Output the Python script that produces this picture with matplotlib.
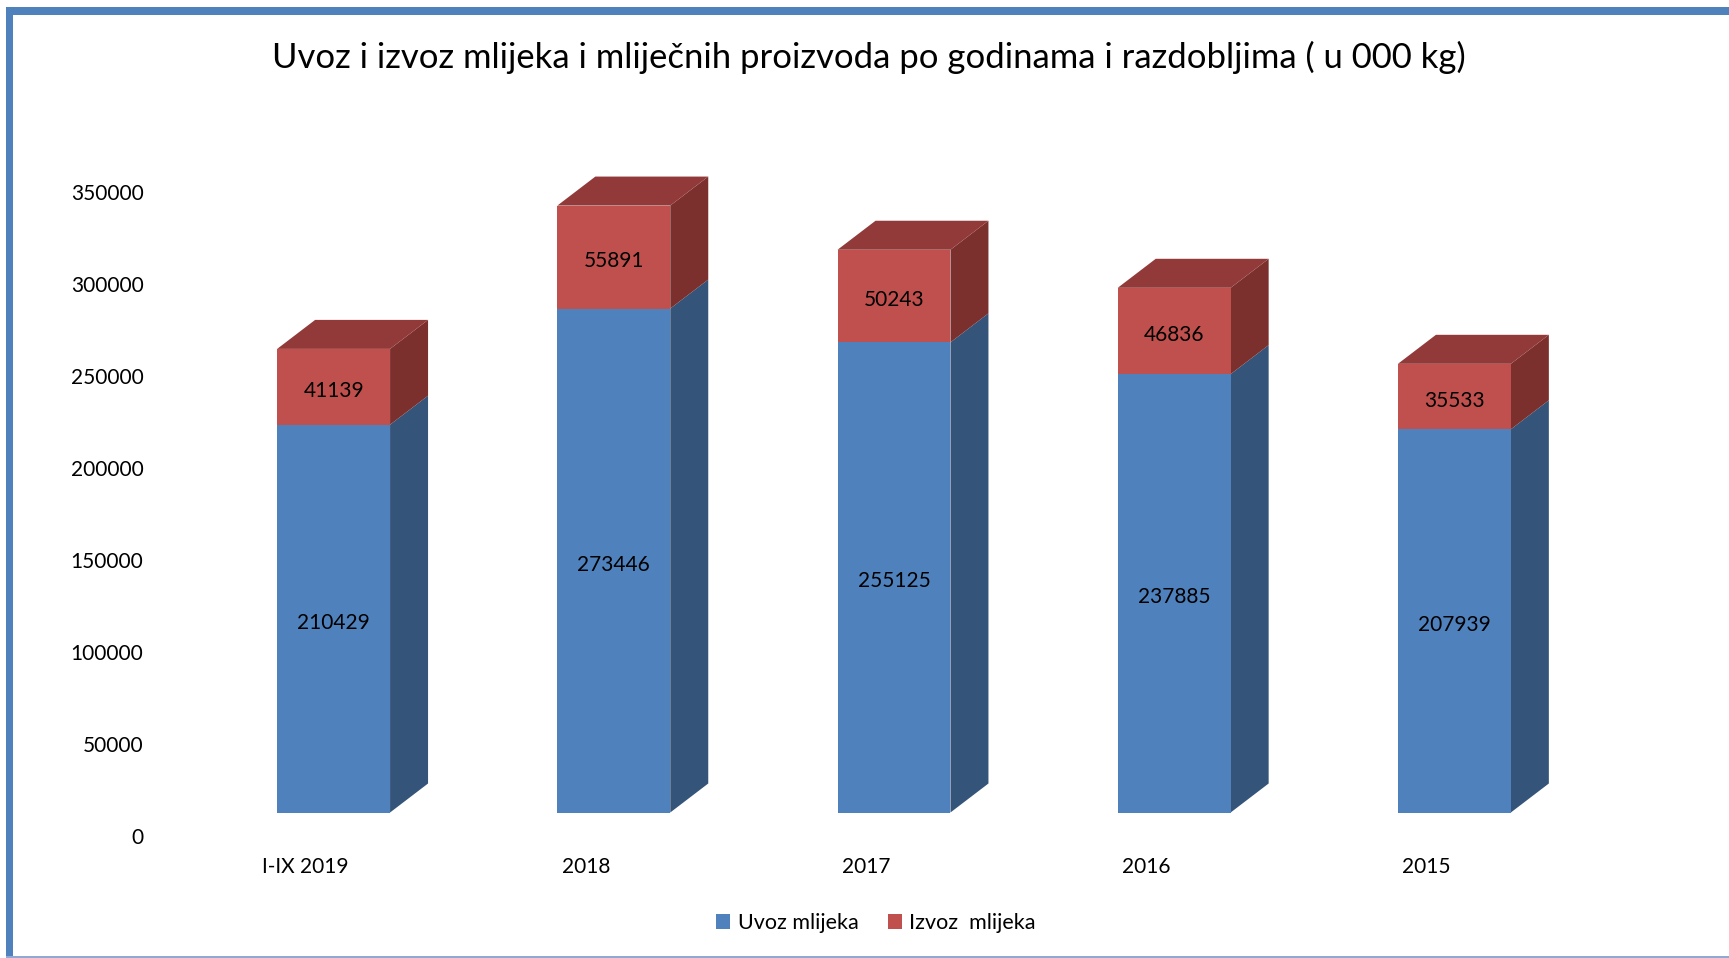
import matplotlib
matplotlib.use("Agg")
import matplotlib.pyplot as plt
import matplotlib.transforms as mtransforms
from matplotlib.patches import Polygon, Patch, Rectangle

# ---------------------------------------
# Data
# ---------------------------------------
categories = ["I-IX 2019", "2018", "2017", "2016", "2015"]
uvoz = [210429, 273446, 255125, 237885, 207939]
izvoz = [41139, 55891, 50243, 46836, 35533]
yticks = [0, 50000, 100000, 150000, 200000, 250000, 300000, 350000]
series_names = ["Uvoz mlijeka", "Izvoz  mlijeka"]
title = "Uvoz i izvoz mlijeka i mliječnih proizvoda po godinama i razdobljima ( u 000 kg)"

# colours: front, side, top
blue = ("#4F81BD", "#34547A", "#3F6797")
red = ("#C0504D", "#7C302E", "#923A39")

plt.rcParams["font.family"] = ["Lato", "DejaVu Sans"]

W, H = 1729, 958
fig = plt.figure(figsize=(W / 100, H / 100), dpi=100)
ax = fig.add_axes([193.5 / W, 145.5 / H, 1401 / W, 645 / H])
ax.set_xlim(-0.5, 4.5)
ax.set_ylim(0, 350000)

bw = 0.403          # bar width (category units)
dx = 0.1356         # 3d depth, x
dy = 15740          # 3d depth, y (value units)

lab_down = mtransforms.ScaledTranslation(0, -4 / 100, fig.dpi_scale_trans)


def box(x, bottom, height, cols, top=False):
    x0, x1 = x - bw / 2, x + bw / 2
    ax.bar(x, height, bw, bottom=bottom, color=cols[0], linewidth=0, zorder=3)
    side = [(x1, bottom), (x1 + dx, bottom + dy),
            (x1 + dx, bottom + height + dy), (x1, bottom + height)]
    ax.add_patch(Polygon(side, closed=True, facecolor=cols[1], lw=0, zorder=2))
    if top:
        t = bottom + height
        tp = [(x0, t), (x1, t), (x1 + dx, t + dy), (x0 + dx, t + dy)]
        ax.add_patch(Polygon(tp, closed=True, facecolor=cols[2], lw=0, zorder=2))


for i, (u, z) in enumerate(zip(uvoz, izvoz)):
    box(i, 0, u, blue)
    box(i, u, z, red, top=True)
    ax.text(i, u / 2, str(u), ha="center", va="center", fontsize=15, zorder=5,
            transform=ax.transData + lab_down)
    ax.text(i, u + z / 2, str(z), ha="center", va="center", fontsize=15, zorder=5,
            transform=ax.transData + lab_down)

# axes styling
for s in ax.spines.values():
    s.set_visible(False)
ax.patch.set_visible(False)

ax.set_yticks(yticks)
ax.set_yticklabels([str(v) for v in yticks])
ax.tick_params(axis="y", length=0, pad=36, labelsize=15)
down = mtransforms.ScaledTranslation(0, -24 / 100, fig.dpi_scale_trans)
for lab in ax.get_yticklabels():
    lab.set_transform(lab.get_transform() + down)

ax.set_xticks(range(len(categories)))
ax.set_xticklabels(categories)
ax.tick_params(axis="x", length=0, pad=32, labelsize=15)
left = mtransforms.ScaledTranslation(-28 / 100, 0, fig.dpi_scale_trans)
for lab in ax.get_xticklabels():
    lab.set_transform(lab.get_transform() + left)

fig.text(869 / W, 1 - 57 / H, title, ha="center", va="center", fontsize=24.9)

handles = [Patch(facecolor=blue[0]), Patch(facecolor=red[0])]
fig.legend(handles, series_names, loc="center", bbox_to_anchor=(876 / W, 1 - 923 / H),
           ncol=2, frameon=False, fontsize=15.5, handlelength=0.65, handleheight=0.65,
           handletextpad=0.35, columnspacing=1.35)

# outer frame
fig.add_artist(Rectangle((6 / W, 1 - 15 / H), 1 - 6 / W, 8 / H, transform=fig.transFigure,
                         facecolor="#4F81BD", lw=0))
fig.add_artist(Rectangle((6 / W, 0), 7 / W, 1 - 7 / H, transform=fig.transFigure,
                         facecolor="#4F81BD", lw=0))
fig.add_artist(Rectangle((6 / W, 0), 1 - 6 / W, 2 / H, transform=fig.transFigure,
                         facecolor="#8EA9D6", lw=0))

fig.savefig("out.png", dpi=100)
